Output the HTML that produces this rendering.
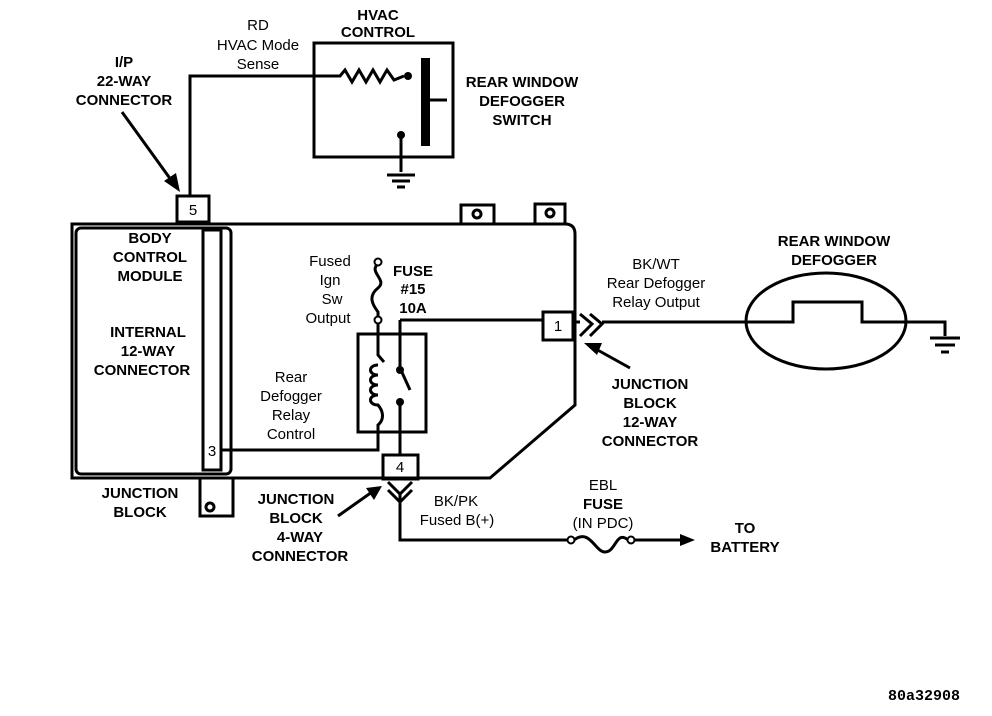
<!DOCTYPE html>
<html><head><meta charset="utf-8"><style>
html,body{margin:0;padding:0;background:#fff;}
svg{display:block;}
text{font-family:"Liberation Sans",sans-serif;font-weight:bold;font-size:15px;fill:#000;text-anchor:middle;}
.n{font-weight:normal;}
</style></head><body>
<svg width="992" height="716" viewBox="0 0 992 716" xmlns="http://www.w3.org/2000/svg">
<g fill="none" stroke="#000" stroke-width="3">
<!-- HVAC box -->
<rect x="314" y="43" width="139" height="114"/>
<polyline points="190,195 190,76 340,76 345,70 352,82 359,70 366,82 373,70 380,82 387,70 394,80 404,76"/>
<line x1="430" y1="100" x2="447" y2="100"/>
<polyline points="401,135 401,172"/>
<line x1="387" y1="175" x2="415" y2="175"/>
<line x1="392" y1="181" x2="410" y2="181"/>
<line x1="397" y1="187" x2="405" y2="187"/>
<!-- connector 5 -->
<rect x="177" y="196" width="32" height="26"/>
<!-- main block -->
<path d="M72,224 H565 Q575,224 575,234 V405 L490,478 H72 Z"/>
<rect x="76" y="228" width="155" height="246" rx="5"/>
<rect x="203" y="230" width="18" height="240"/>
<!-- top tabs -->
<rect x="461" y="205" width="33" height="19"/>
<rect x="535" y="204" width="30" height="20"/>
<circle cx="477" cy="214" r="4"/>
<circle cx="550" cy="213" r="4"/>
<!-- bottom tab -->
<path d="M200,478 V516 H233 V478"/>
<circle cx="210" cy="507" r="4"/>
<!-- relay -->
<rect x="358" y="334" width="68" height="98"/>
<path d="M378,264 C368,272 388,280 378,288 C368,296 372,304 378,312 L378,320"/>
<polyline points="378,320 378,355 384,362"/>
<path d="M378,365 C368,365 368,375 378,375 C368,375 368,385 378,385 C368,385 368,395 378,395 C368,395 368,405 378,405 C384,412 384,420 378,425 L378,450 L221,450"/>
<polyline points="400,320 543,320"/>
<polyline points="400,320 400,368 410,390"/>
<polyline points="400,402 400,455"/>
<rect x="383" y="455" width="35" height="24"/>
<polyline points="388,482 400,494 412,482"/>
<polyline points="388,490 400,502 412,490"/>
<polyline points="400,494 400,540 570,540"/>
<path d="M574,540 C590,528 595,552 605,552 C616,552 616,530 628,540"/>
<line x1="632" y1="540" x2="680" y2="540"/>
<!-- connector 1 -->
<rect x="543" y="312" width="30" height="28"/>
<polyline points="580,314 592,324 580,336"/>
<polyline points="590,314 602,324 590,336"/>
<line x1="573" y1="322" x2="580" y2="322"/>
<polyline points="602,322 793,322 793,302 862,302 862,322 945,322 945,336"/>
<ellipse cx="826" cy="321" rx="80" ry="48"/>
<line x1="930" y1="338" x2="960" y2="338"/>
<line x1="935" y1="345" x2="955" y2="345"/>
<line x1="941" y1="352" x2="949" y2="352"/>
<!-- arrows -->
<line x1="122" y1="112" x2="174" y2="184"/>
<line x1="630" y1="368" x2="594" y2="348"/>
<line x1="338" y1="516" x2="372" y2="492"/>
</g>
<g fill="#000">
<rect x="421" y="58" width="9" height="88"/>
<circle cx="408" cy="76" r="4"/>
<circle cx="401" cy="135" r="4"/>
<polygon points="180,192 164,181 176,173"/>
<polygon points="584,343 602,343 597,355"/>
<polygon points="382,486 366,488 374,500"/>
<polygon points="680,534 695,540 680,546"/>
<circle cx="400" cy="370" r="4"/><circle cx="400" cy="402" r="4"/>
</g>
<g fill="#fff" stroke="#000" stroke-width="2">
<circle cx="378" cy="262" r="3.5"/><circle cx="378" cy="320" r="3.5"/>
<circle cx="571" cy="540" r="3.5"/><circle cx="631" cy="540" r="3.5"/>
</g>
<text x="378" y="37">CONTROL</text><text x="378" y="20">HVAC</text>
<text x="258" y="30" class="n">RD</text>
<text x="258" y="50" class="n">HVAC Mode</text>
<text x="258" y="69" class="n">Sense</text>
<text x="124" y="67">I/P</text><text x="124" y="86">22-WAY</text><text x="124" y="105">CONNECTOR</text>
<text x="522" y="87">REAR WINDOW</text><text x="522" y="106">DEFOGGER</text><text x="522" y="125">SWITCH</text>
<text x="193" y="215" class="n">5</text>
<text x="150" y="243">BODY</text><text x="150" y="262">CONTROL</text><text x="150" y="281">MODULE</text>
<text x="148" y="337">INTERNAL</text><text x="148" y="356">12-WAY</text><text x="142" y="375">CONNECTOR</text>
<text x="212" y="456" class="n">3</text>
<text x="330" y="266" class="n">Fused</text><text x="330" y="285" class="n">Ign</text><text x="332" y="304" class="n">Sw</text><text x="328" y="323" class="n">Output</text>
<text x="413" y="276">FUSE</text><text x="413" y="294">#15</text><text x="413" y="313">10A</text>
<text x="291" y="382" class="n">Rear</text><text x="291" y="401" class="n">Defogger</text><text x="291" y="420" class="n">Relay</text><text x="291" y="439" class="n">Control</text>
<text x="400" y="472" class="n">4</text>
<text x="558" y="331" class="n">1</text>
<text x="140" y="498">JUNCTION</text><text x="140" y="517">BLOCK</text>
<text x="296" y="504">JUNCTION</text><text x="296" y="523">BLOCK</text><text x="300" y="542">4-WAY</text><text x="300" y="561">CONNECTOR</text>
<text x="456" y="506" class="n">BK/PK</text><text x="457" y="525" class="n">Fused B(+)</text>
<text x="603" y="490" class="n">EBL</text><text x="603" y="509">FUSE</text><text x="603" y="528" class="n">(IN PDC)</text>
<text x="745" y="533">TO</text><text x="745" y="552">BATTERY</text>
<text x="656" y="269" class="n">BK/WT</text><text x="656" y="288" class="n">Rear Defogger</text><text x="656" y="307" class="n">Relay Output</text>
<text x="834" y="246">REAR WINDOW</text><text x="834" y="265">DEFOGGER</text>
<text x="650" y="389">JUNCTION</text><text x="650" y="408">BLOCK</text><text x="650" y="427">12-WAY</text><text x="650" y="446">CONNECTOR</text>
<text x="924" y="700" style="font-family:'Liberation Mono',monospace;font-size:15px">80a32908</text>
</svg>
</body></html>
